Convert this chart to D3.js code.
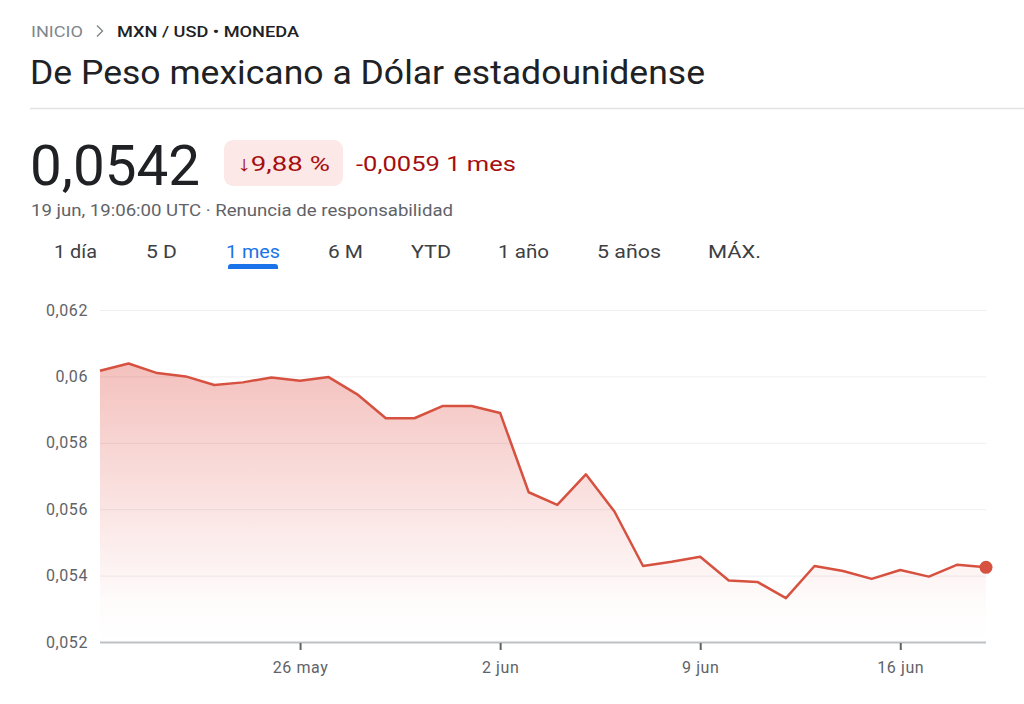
<!DOCTYPE html>
<html>
<head>
<meta charset="utf-8">
<script src="https://cdnjs.cloudflare.com/ajax/libs/d3/7.8.5/d3.min.js"></script>
<style>
  html, body { margin: 0; padding: 0; background: #fff; }
  svg { display: block; font-family: Roboto, "Noto Sans", Arial, sans-serif; }
</style>
</head>
<body>
<svg id="chart" width="1024" height="704"></svg>
<script>
// ---- data ----
const dates = ["05-19","05-20","05-21","05-22","05-23","05-24","05-25","05-26","05-27","05-28","05-29","05-30","05-31",
               "06-01","06-02","06-03","06-04","06-05","06-06","06-07","06-08","06-09","06-10","06-11","06-12","06-13",
               "06-14","06-15","06-16","06-17","06-18","06-19"];
const values = [0.06017,0.06039,0.0601,0.06,0.05974,0.05982,0.05997,0.05987,0.05998,0.05946,0.05874,0.05874,0.05911,
                0.05911,0.0589,0.05651,0.05613,0.05705,0.05593,0.05429,0.05442,0.05457,0.05385,0.05381,0.05332,0.05429,
                0.05414,0.0539,0.05417,0.05397,0.05433,0.05425];
const yTicks = [0.052,0.054,0.056,0.058,0.06,0.062];
const xTickDates = ["05-26","06-02","06-09","06-16"];
const xTickLabels = ["26 may","2 jun","9 jun","16 jun"];
const tabs = ["1 día","5 D","1 mes","6 M","YTD","1 año","5 años","MÁX."];
const activeTab = "1 mes";

const parse = s => new Date("2025-" + s + "T00:00:00Z");
const data = dates.map((d,i) => ({date: parse(d), value: values[i]}));

const svg = d3.select("#chart");

function txt(x, y, size, fill, s, width, weight) {
  const t = svg.append("text").attr("x", x).attr("y", y).attr("font-size", size).attr("fill", fill).text(s);
  if (weight) t.attr("font-weight", weight);
  if (width) t.attr("textLength", width).attr("lengthAdjust", "spacingAndGlyphs");
  return t;
}

// ---- header ----
txt(31, 37, 14.5, "#80868b", "INICIO", 52);
svg.append("path").attr("d", "M97,25.5 L102.5,31 L97,36.5").attr("fill", "none").attr("stroke", "#80868b").attr("stroke-width", 1.4);
txt(117, 37, 14.5, "#202124", "MXN / USD • MONEDA", 182, 500);

txt(30, 84, 34, "#202124", "De Peso mexicano a Dólar estadounidense", 675);

svg.append("line").attr("x1", 30).attr("x2", 1024).attr("y1", 108.5).attr("y2", 108.5)
   .attr("stroke", "#e3e3e3").attr("stroke-width", 1.5);

txt(30, 185, 55, "#202124", "0,0542", 170);

svg.append("rect").attr("x", 224).attr("y", 140).attr("width", 119).attr("height", 46).attr("rx", 9)
   .attr("fill", "#fce8e6");
txt(237, 171, 21, "#a50e0e", "↓9,88 %", 93);
txt(356, 171, 21, "#a50e0e", "-0,0059 1 mes", 160);

txt(31, 216, 16, "#5f6368", "19 jun, 19:06:00 UTC · Renuncia de responsabilidad", 422);

// tabs
const tabX = [54,146,226,328,411,498,597,708];
const tabW = [43,31,54,35,40,51,64,53];
tabs.forEach((t,i) => {
  txt(tabX[i], 258, 19, t === activeTab ? "#1a73e8" : "#3c4043", t, tabW[i]);
  if (t === activeTab) {
    const a = tabX[i] + 2, b = tabX[i] + tabW[i] - 2;
    svg.append("path")
      .attr("d", `M${a},269 L${a},267 Q${a},264 ${a+3},264 L${b-3},264 Q${b},264 ${b},267 L${b},269 Z`)
      .attr("fill", "#1a73e8");
  }
});

// ---- chart ----
const x = d3.scaleUtc().domain([parse(dates[0]), parse(dates[dates.length-1])]).range([100, 986]);
const y = d3.scaleLinear().domain([0.052, 0.062]).range([642, 310]);

const defs = svg.append("defs");
const grad = defs.append("linearGradient").attr("id", "fillGrad")
  .attr("gradientUnits", "userSpaceOnUse").attr("x1", 0).attr("x2", 0)
  .attr("y1", y(d3.max(values))).attr("y2", 642);
grad.append("stop").attr("offset", "0%").attr("stop-color", "#d93025").attr("stop-opacity", 0.3);
grad.append("stop").attr("offset", "85%").attr("stop-color", "#d93025").attr("stop-opacity", 0.02);
grad.append("stop").attr("offset", "100%").attr("stop-color", "#d93025").attr("stop-opacity", 0);

// gridlines
svg.append("g").selectAll("line").data(yTicks.slice(1)).join("line")
  .attr("x1", 100).attr("x2", 986).attr("y1", d => y(d) + 0.5).attr("y2", d => y(d) + 0.5)
  .attr("stroke", "#eeeff1").attr("stroke-width", 1);

// y labels
svg.append("g").selectAll("text").data(yTicks).join("text")
  .attr("x", 88).attr("y", d => y(d) + 5.5).attr("text-anchor", "end")
  .attr("font-size", 16).attr("letter-spacing", 0.6).attr("fill", "#5f6368")
  .text(d => d3.format(".3~f")(d).replace(".", ","));

// area
svg.append("path").datum(data)
  .attr("d", d3.area().x(d => x(d.date)).y0(642).y1(d => y(d.value)))
  .attr("fill", "url(#fillGrad)");

// x axis
const xAxis = d3.axisBottom(x)
  .tickValues(xTickDates.map(parse))
  .tickFormat((d,i) => xTickLabels[i])
  .tickSize(8).tickPadding(12);
const gx = svg.append("g").attr("transform", "translate(0,642)").call(xAxis);
gx.select(".domain").attr("d", "M100,0.5H986").attr("stroke", "#bdc1c6").attr("stroke-width", 2);
gx.selectAll(".tick line").attr("stroke", "#5f6368").attr("stroke-width", 2).attr("y1", 1);
gx.selectAll(".tick text").attr("font-size", 16).attr("letter-spacing", 0.6).attr("fill", "#5f6368")
  .attr("font-family", "Roboto, 'Noto Sans', Arial, sans-serif");

// line
svg.append("path").datum(data)
  .attr("d", d3.line().x(d => x(d.date)).y(d => y(d.value)))
  .attr("fill", "none").attr("stroke", "#d6513f").attr("stroke-width", 2.5).attr("stroke-linejoin", "round");

const last = data[data.length - 1];
svg.append("circle").attr("cx", x(last.date)).attr("cy", y(last.value)).attr("r", 6.5).attr("fill", "#d6513f");
</script>
</body>
</html>
